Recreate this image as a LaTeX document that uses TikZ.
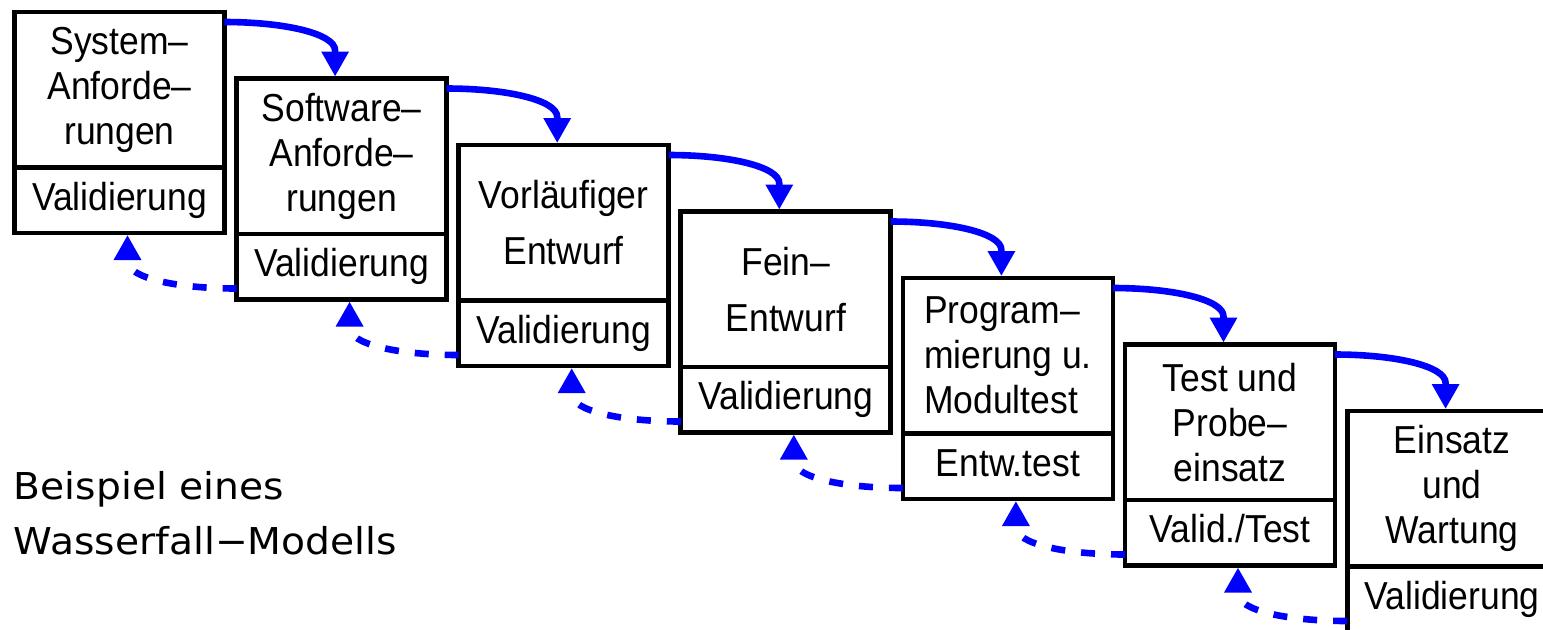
\documentclass[tikz,border=0pt]{standalone}
\usepackage{fontspec}
\setmainfont{Liberation Sans}[FakeStretch=0.91]
\newfontfamily\capfont[FakeStretch=1.06]{DejaVu Sans}
\usetikzlibrary{arrows.meta,calc}
\tikzset{
  phasebox/.style={draw, line width=2.4pt, minimum width=105pt, minimum height=77.75pt,
    inner sep=0pt, outer sep=0pt, anchor=north west, align=center,
    font=\fontsize{19.5}{22.5}\selectfont},
  twoline/.style={font=\fontsize{19.5}{28}\selectfont},
  checkbox/.style={draw, line width=2.4pt, minimum width=105pt, minimum height=32.75pt,
    inner sep=0pt, outer sep=0pt, anchor=north west, text height=14pt, text depth=4pt,
    font=\fontsize{19.5}{22.5}\selectfont},
  fwdarrow/.style={blue, line width=3.3pt, -{Triangle[length=12.5pt,width=13pt]}},
  backarrow/.style={blue, line width=3.3pt, dash pattern=on 7pt off 8pt,
    -{Triangle[length=12.5pt,width=13pt]}},
  captext/.style={anchor=base west, inner sep=0pt, font=\capfont\fontsize{18.5}{22}\selectfont}
}
\begin{document}
\begin{tikzpicture}[x=0.5pt,y=-0.5pt]
\useasboundingbox (0,0) rectangle (1543,629);
\clip (0,0) rectangle (1543,629);
% phase boxes
\node[phasebox] (b1) at (14.5,12) {System–\\Anforde–\\rungen};
\node[checkbox] (v1) at (b1.south west) {Validierung};
\node[phasebox] (b2) at (236.6,78.5) {Software–\\Anforde–\\rungen};
\node[checkbox] (v2) at (b2.south west) {Validierung};
\node[phasebox,twoline] (b3) at (458.7,145) {Vorläufiger\\Entwurf};
\node[checkbox] (v3) at (b3.south west) {Validierung};
\node[phasebox,twoline] (b4) at (680.8,211.5) {Fein–\\Entwurf};
\node[checkbox] (v4) at (b4.south west) {Validierung};
\node[phasebox,align=left] (b5) at (902.9,278) {Program–\\mierung u.\\Modultest};
\node[checkbox] (v5) at (b5.south west) {Entw.test};
\node[phasebox] (b6) at (1125,344.5) {Test und\\Probe–\\einsatz};
\node[checkbox] (v6) at (b6.south west) {Valid./Test};
\node[phasebox] (b7) at (1347.1,411) {Einsatz\\und\\Wartung};
\node[checkbox] (v7) at (b7.south west) {Validierung};
% forward arrows
\foreach \a/\b in {b1/b2,b2/b3,b3/b4,b4/b5,b5/b6,b6/b7}{
  \draw[fwdarrow] ($(\a.north east)+(0,10)$) .. controls +(60,0) and +(0,-17) ..
    ($(\b.north west)+(98.5,-28)$) -- ($(\b.north west)+(98.5,-2)$);
}
% backward (dashed) arrows
\foreach \a/\b in {v2/v1,v3/v2,v4/v3,v5/v4,v6/v5,v7/v6}{
  \draw[backarrow] ($(\a.south west)+(0,-11)$) .. controls +(-60,0) and +(0,17) ..
    ($(\b.south west)+(113,28)$) -- ($(\b.south west)+(113,2)$);
}
% caption
\node[captext] (cap1) at (13.5,499) {Beispiel eines};
\node[captext] (cap2) at (13.5,554) {Wasserfall−Modells};
\end{tikzpicture}
\end{document}
